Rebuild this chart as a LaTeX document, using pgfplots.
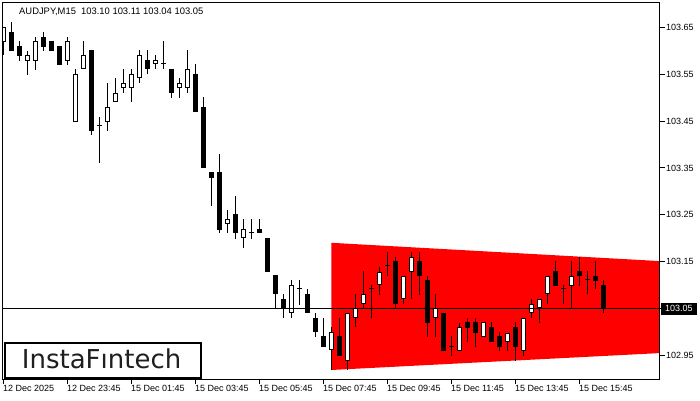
\documentclass[border=0pt]{standalone}
\usepackage{fontspec}
\setmainfont{Liberation Sans}
\newfontfamily\logofont{DejaVu Sans}
\usepackage{pgfplots}
\usepackage{pgfplotstable}
\pgfplotsset{compat=1.18}

% AUDJPY M15 candles: index, open, high, low, close
\pgfplotstableread{
k  o       h       l       c
0  103.619 103.652 103.592 103.652
1  103.641 103.662 103.600 103.600
2  103.611 103.622 103.579 103.589
3  103.579 103.600 103.549 103.592
4  103.579 103.630 103.560 103.622
5  103.630 103.641 103.600 103.609
6  103.622 103.622 103.600 103.600
7  103.611 103.611 103.570 103.570
8  103.579 103.630 103.570 103.622
9  103.448 103.562 103.448 103.551
10 103.562 103.622 103.562 103.592
11 103.602 103.602 103.421 103.429
12 103.440 103.459 103.361 103.440
13 103.448 103.532 103.429 103.480
14 103.491 103.542 103.491 103.510
15 103.521 103.562 103.510 103.532
16 103.521 103.562 103.491 103.551
17 103.542 103.602 103.532 103.592
18 103.581 103.602 103.551 103.562
19 103.572 103.592 103.562 103.581
20 103.572 103.622 103.562 103.572
21 103.562 103.562 103.500 103.510
22 103.521 103.542 103.500 103.532
23 103.521 103.602 103.510 103.562
24 103.551 103.572 103.470 103.470
25 103.480 103.502 103.350 103.350
26 103.341 103.341 103.269 103.329
27 103.341 103.380 103.211 103.217
28 103.230 103.260 103.211 103.241
29 103.252 103.290 103.198 103.211
30 103.200 103.241 103.179 103.220
31 103.211 103.241 103.198 103.211
32 103.220 103.241 103.211 103.211
33 103.200 103.200 103.128 103.128
34 103.121 103.121 103.050 103.080
35 103.070 103.080 103.029 103.050
36 103.040 103.110 103.029 103.100
37 103.091 103.110 103.057 103.091
38 103.080 103.091 103.040 103.040
39 103.029 103.040 102.989 102.999
40 102.991 103.029 102.967 102.967
41 102.961 103.010 102.918 102.999
42 102.991 103.029 102.948 102.948
43 102.937 103.040 102.918 103.040
44 103.029 103.080 103.010 103.050
45 103.059 103.130 103.050 103.080
46 103.091 103.100 103.029 103.091
47 103.100 103.138 103.078 103.128
48 103.140 103.170 103.119 103.140
49 103.151 103.160 103.050 103.059
50 103.070 103.119 103.059 103.119
51 103.128 103.170 103.070 103.160
52 103.151 103.170 103.078 103.119
53 103.110 103.119 102.989 103.018
54 103.029 103.080 102.989 103.050
55 103.040 103.040 102.959 102.959
56 102.967 102.991 102.948 102.967
57 102.959 103.018 102.959 103.010
58 103.021 103.029 102.978 103.008
59 103.021 103.029 102.967 102.997
60 102.989 103.021 102.989 103.021
61 103.010 103.021 102.978 102.978
62 102.991 102.999 102.959 102.967
63 102.978 102.997 102.959 102.997
64 103.010 103.021 102.937 102.967
65 102.959 103.029 102.948 103.029
66 103.040 103.070 103.029 103.059
67 103.050 103.070 103.018 103.070
68 103.080 103.119 103.059 103.119
69 103.130 103.151 103.098 103.098
70 103.091 103.100 103.059 103.091
71 103.098 103.151 103.050 103.119
72 103.130 103.160 103.098 103.119
73 103.110 103.130 103.080 103.110
74 103.119 103.151 103.091 103.108
75 103.100 103.110 103.040 103.050
}\bars

\begin{document}
\begin{tikzpicture}
\path[use as bounding box] (0pt,0pt) rectangle (700pt,-400pt);
\begin{axis}[
    scale only axis,
    width=657pt, height=376.5pt,
    at={(2.5pt,-2.5pt)}, anchor=north west,
    xmin=-0.1, xmax=82.02,
    ymin=102.8987, ymax=103.7039,
    axis on top,
    axis line style={black, line width=1pt},
    tick style={black, line width=1pt},
    tick align=outside,
    major tick length=5pt,
    xtick pos=lower,
    ytick pos=right,
    yticklabel pos=right,
    xtick={0,8,16,24,32,40,48,56,64,72},
    xticklabels={12 Dec 2025,12 Dec 23:45,15 Dec 01:45,15 Dec 03:45,15 Dec 05:45,15 Dec 07:45,15 Dec 09:45,15 Dec 11:45,15 Dec 13:45,15 Dec 15:45},
    ytick={102.95,103.05,103.15,103.25,103.35,103.45,103.55,103.65},
    yticklabels={102.95,103.05,103.15,103.25,103.35,103.45,103.55,103.65},
    xticklabel style={font=\fontsize{9}{10}\selectfont, anchor=north west, inner sep=0pt, xshift=-0.5pt, yshift=-1pt},
    yticklabel style={font=\fontsize{9}{10}\selectfont, anchor=west, inner sep=0pt, xshift=1.5pt},
    clip=true,
    candle/.style={draw=none, no markers, forget plot,
        error bars/y dir=plus, error bars/y explicit, error bars/error mark=none},
]
% descending triangle pattern zone
\addplot[fill=red, draw=none, forget plot] coordinates {(41,103.190) (83,103.150) (83,102.955) (41,102.918)};
% wicks
\addplot[candle, error bars/error bar style={draw=black, line width=1pt}]
    table[x=k, y=l, y error expr=\thisrow{h}-\thisrow{l}] {\bars};
% bodies
\addplot[candle, error bars/error bar style={draw=black, line width=5pt}]
    table[x=k, y expr={min(\thisrow{o},\thisrow{c})}, y error expr={max(abs(\thisrow{c}-\thisrow{o}),0.0021)}] {\bars};
% hollow bull bodies
\addplot[candle, restrict expr to domain={\thisrow{c}-\thisrow{o}}{0.0001:1},
    error bars/error bar style={draw=white, line width=3pt}]
    table[x=k, y expr=\thisrow{o}+0.00214, y error expr=\thisrow{c}-\thisrow{o}-0.00428] {\bars};
% current bid line
\addplot[black, line width=1pt, forget plot] coordinates {(-1,103.05) (83,103.05)};
\end{axis}
\node[anchor=base west, inner sep=0pt, font=\fontsize{9.4}{10}\selectfont] at (19pt,-14.3pt) {AUDJPY,M15\ \ 103.10 103.11 103.04 103.05};
\node[fill=black, text=white, anchor=west, inner xsep=4.5pt, inner ysep=0pt, minimum height=12pt, font=\fontsize{9}{10}\selectfont] at (660.5pt,-308.5pt) {103.05};
\node[draw=black, fill=white, line width=2pt, anchor=north west, minimum width=196.6pt, minimum height=35.6pt, inner sep=0pt] at (3.7pt,-341.7pt) {};
\node[anchor=base west, inner sep=0pt, text=black!88, font=\logofont\fontsize{26}{28}\selectfont] at (21.7pt,-368.3pt) {InstaFıntech};
\end{tikzpicture}
\end{document}
